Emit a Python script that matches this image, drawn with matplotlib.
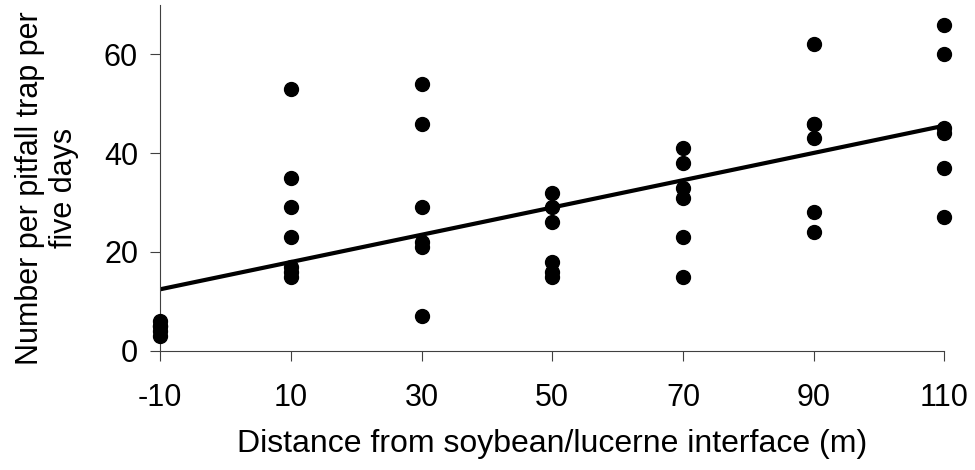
import matplotlib
matplotlib.use("Agg")
import matplotlib.pyplot as plt
import numpy as np

plt.rcParams["font.family"] = ["Liberation Sans", "DejaVu Sans"]
plt.rcParams["axes.unicode_minus"] = False

# distance (m) -> catches per trap
distances = [-10, 10, 30, 50, 70, 90, 110]
counts = [
    [3, 4, 5, 6, 5],
    [53, 35, 29, 23, 17, 16, 15],
    [54, 46, 29, 22, 21, 7],
    [32, 29, 26, 18, 16, 15],
    [41, 38, 33, 31, 23, 15],
    [62, 46, 46, 43, 28, 24],
    [66, 60, 45, 44, 37, 27],
]
x_ticks = [-10, 10, 30, 50, 70, 90, 110]
y_ticks = [0, 20, 40, 60]

# fitted line
trend_intercept = 15.2
trend_slope = 0.276

xs = np.concatenate([[d] * len(c) for d, c in zip(distances, counts)])
ys = np.concatenate(counts)

fig = plt.figure(figsize=(9.75, 4.7), dpi=100)
ax = fig.add_axes([0.1644, 0.2538, 0.8041, 0.7356])

ax.plot(xs, ys, "o", color="black", markersize=10, clip_on=False, zorder=3)
line_x = np.array([distances[0], distances[-1]])
ax.plot(line_x, trend_intercept + trend_slope * line_x, color="black", linewidth=3, zorder=2)

ax.set_xlim(-10, 110)
ax.set_ylim(0, 70)
ax.set_xticks(x_ticks)
ax.set_yticks(y_ticks)
ax.tick_params(labelsize=22, length=7, width=0.8, color="#404040")
ax.tick_params(axis="x", pad=16)
ax.tick_params(axis="y", pad=9)
for s in ["top", "right"]:
    ax.spines[s].set_visible(False)
for s in ["left", "bottom"]:
    ax.spines[s].set_color("#404040")
    ax.spines[s].set_linewidth(0.8)

ax.set_xlabel("Distance from soybean/lucerne interface (m)", fontsize=23, labelpad=12)
ax.set_ylabel("Number per pitfall trap per\nfive days", fontsize=22, va="center")
ax.yaxis.set_label_coords(-0.1445, 0.47)

fig.savefig("out.png", dpi=100)
